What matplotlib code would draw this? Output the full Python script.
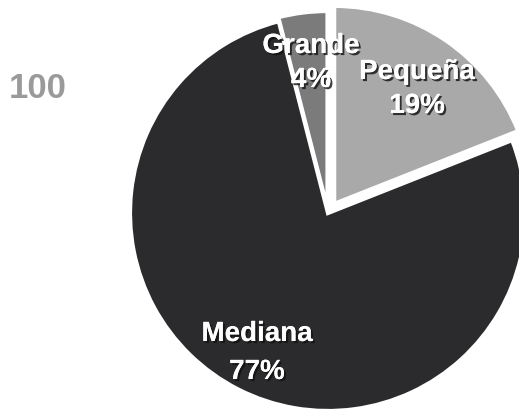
import matplotlib
matplotlib.use("Agg")
import matplotlib.pyplot as plt
import matplotlib.patheffects as pe

# data (counterclockwise from 12 o'clock)
labels = ["Grande", "Mediana", "Pequeña"]
shares = [4, 77, 19]
colors = ["#7b7b7b", "#2b2a2c", "#a9a9a9"]

W, H = 519, 415
fig = plt.figure(figsize=(W / 100, H / 100), dpi=100)
ax = fig.add_axes([0, 0, 1, 1])

# explode offsets are in data units (pixels here)
ax.pie(shares, colors=colors, explode=[4, 0, 11], startangle=90, counterclock=True,
       radius=198, center=(328, H - 213), frame=True,
       wedgeprops=dict(edgecolor="white", linewidth=3))
ax.set_xlim(0, W); ax.set_ylim(0, H)
ax.set_aspect("equal"); ax.set_axis_off()

fx = [pe.withSimplePatchShadow(offset=(1.5, -1.5), shadow_rgbFace="#111111", alpha=0.8), pe.Normal()]
kw = dict(ha="center", va="center", color="white", fontweight="bold",
          family=["Liberation Sans", "DejaVu Sans"], fontsize=20, path_effects=fx)
pos = {"Grande": (311, H - 46, H - 80), "Mediana": (257, H - 334, H - 372), "Pequeña": (417, H - 72, H - 106)}
for name, v in zip(labels, shares):
    x, y1, y2 = pos[name]
    ax.text(x, y1, name, **kw)
    ax.text(x, y2, f"{v}%", **kw)

ax.text(38, H - 88, "100", ha="center", va="center", color="#9a9a9a", fontweight="bold",
        family=["Liberation Sans", "DejaVu Sans"], fontsize=25)

fig.savefig("out.png", dpi=100)
